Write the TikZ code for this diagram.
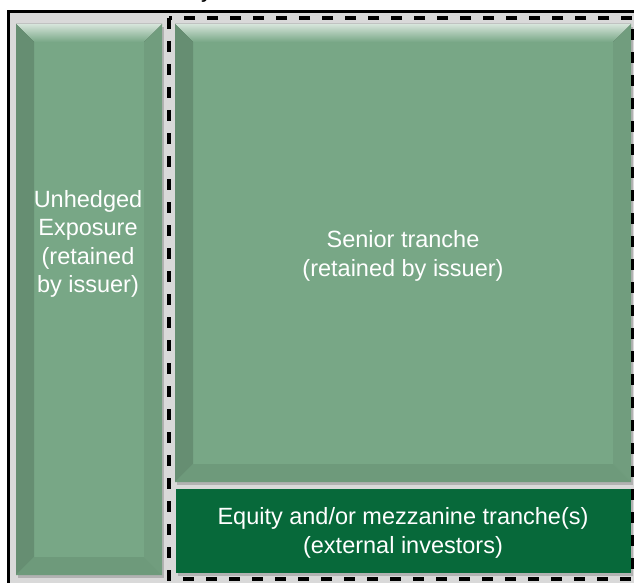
\documentclass[tikz,border=0pt]{standalone}
\usepackage{fontspec}
\setmainfont{Liberation Sans}
\definecolor{tranche}{HTML}{78A786}
\definecolor{equity}{HTML}{07693A}
\definecolor{framegray}{HTML}{D9D9D9}
% bevelled box: x1,y1,x2,y2 (pixels, y downwards)
\newcommand{\bevelbox}[4]{%
  \fill[black!30] (#1+2,#2+3) rectangle (#3+2,#4+3);
  \fill[tranche] (#1,#2) rectangle (#3,#4);
  \fill[top color=tranche!30!white, bottom color=tranche] (#1,#2)--(#3,#2)--(#3-18,#2+18)--(#1+18,#2+18)--cycle;
  \fill[tranche!85!black] (#1,#2)--(#1+18,#2+18)--(#1+18,#4-18)--(#1,#4)--cycle;
  \fill[tranche!94!black] (#3,#2)--(#3-18,#2+18)--(#3-18,#4-18)--(#3,#4)--cycle;
  \fill[tranche!92!black] (#1,#4)--(#1+18,#4-18)--(#3-18,#4-18)--(#3,#4)--cycle;
}
\begin{document}
\begin{tikzpicture}[x=1pt,y=-1pt,line join=miter]
\tikzset{lbl/.style={text=white,align=center,inner sep=0pt,
  font=\fontsize{23.5}{28.5}\selectfont}}
\useasboundingbox (0,0) rectangle (634,583);
% outer frame
\fill[framegray] (8,12) rectangle (645,595);
\draw[line width=3pt] (8,12) rectangle (645,595);
\node[anchor=base,font=\fontsize{23.5}{28.5}\selectfont] (title) at (207,-2) {y};
% tranches
\bevelbox{16}{24}{162}{575}
\bevelbox{175}{24}{631}{482}
\fill[black!30] (178,492) rectangle (633,576);
\fill[equity] (176,489) rectangle (631,573);
\draw[line width=4pt,dash pattern=on 11pt off 12pt] (169,18) rectangle (633,579);
\node[lbl] (unhedged) at (88,244) {Unhedged\\Exposure\\(retained\\by issuer)};
\node[lbl] (senior) at (403,256) {Senior tranche\\(retained by issuer)};
\node[lbl] (equity) at (403,533) {Equity and/or mezzanine tranche(s)\\(external investors)};
\end{tikzpicture}
\end{document}
